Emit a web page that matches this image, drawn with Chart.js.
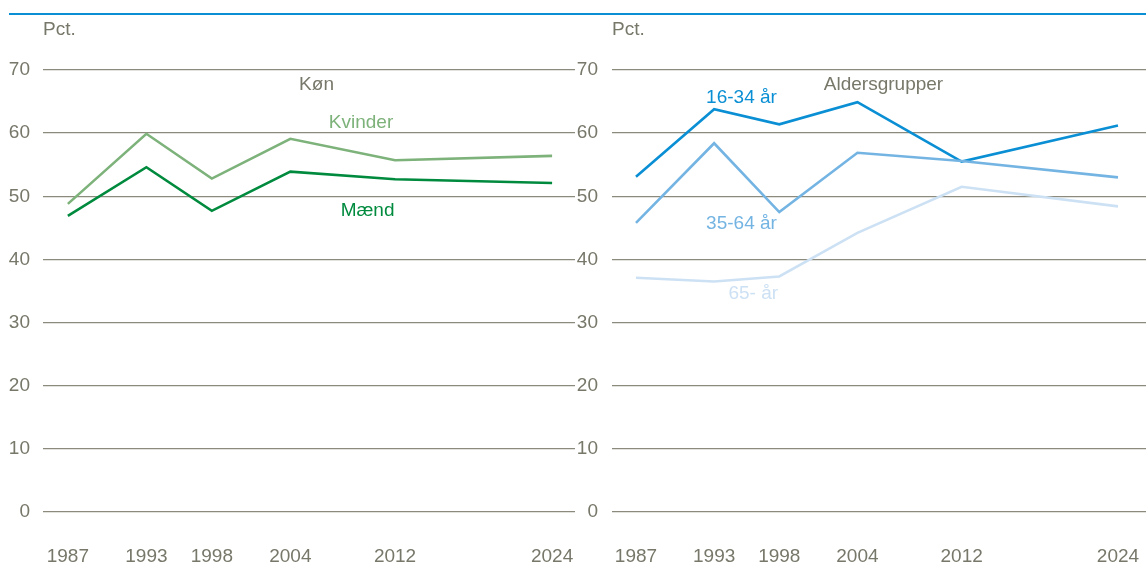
<!DOCTYPE html>
<html lang="da">
<head>
<meta charset="UTF-8">
<title>Køn og aldersgrupper</title>
<style>
  body { margin: 0; background: #fff; font-family: 'Liberation Sans', Arial, sans-serif; }
  #wrap { position: relative; width: 1146px; height: 570px; overflow: hidden; }
  .topline { position: absolute; left: 9px; right: 0; top: 13px; height: 2px; background: #0a8fd4; }
  canvas { position: absolute; top: 0; }
  #c1 { left: 0; }
  #c2 { left: 575px; }
</style>
</head>
<body>
<div id="wrap">
  <div class="topline"></div>
  <canvas id="c1" width="578" height="570"></canvas>
  <canvas id="c2" width="571" height="570"></canvas>
</div>
<script src="https://cdn.jsdelivr.net/npm/chart.js"></script>
<script>
// years on the x axis
const years = [1987, 1993, 1998, 2004, 2012, 2024];
const yTicks = [0, 10, 20, 30, 40, 50, 60, 70];

// Køn
const kvinder = [48.8, 59.9, 52.8, 59.1, 55.7, 56.4];
const maend = [46.9, 54.6, 47.7, 53.9, 52.7, 52.1];

// Aldersgrupper
const alder1634 = [53.1, 63.8, 61.4, 64.9, 55.5, 61.2];
const alder3564 = [45.8, 58.4, 47.5, 56.9, 55.6, 53.0];
const alder65 = [37.1, 36.5, 37.3, 44.2, 51.5, 48.4];

// in-chart labels: [text, year, value, colour]
const leftLabels = [
  ['Køn', 2006.0, 67.6, '#77776a'],
  ['Kvinder', 2009.4, 61.7, '#7db27a'],
  ['Mænd', 2009.9, 47.7, '#008a3e']
];
const rightLabels = [
  ['Aldersgrupper', 2006.0, 67.6, '#77776a'],
  ['16-34 år', 1995.1, 65.6, '#0a8fd4'],
  ['35-64 år', 1995.1, 45.7, '#74b4e3'],
  ['65- år', 1996.0, 34.6, '#cde1f4']
];

const textCol = '#77776a';
const gridCol = '#8c8a7c';
const fontFam = '"Liberation Sans", Arial, sans-serif';

function pts(vals) {
  return years.map((y, i) => ({ x: y, y: vals[i] }));
}

const labelPlugin = {
  id: 'labels',
  afterDatasetsDraw(chart, args, opts) {
    const ctx = chart.ctx;
    const xs = chart.scales.x, ys = chart.scales.y;
    ctx.save();
    ctx.font = '19px ' + fontFam;
    ctx.textBaseline = 'middle';
    ctx.textAlign = 'center';
    opts.items.forEach(([t, yr, v, c]) => {
      ctx.fillStyle = c;
      ctx.fillText(t, xs.getPixelForValue(yr), ys.getPixelForValue(v));
    });
    ctx.textAlign = 'left';
    ctx.fillStyle = textCol;
    ctx.fillText('Pct.', chart.chartArea.left, 30);
    ctx.restore();
  }
};

function makeChart(id, datasets, xmin, xmax, axisW, pad, rightPad, items) {
  return new Chart(document.getElementById(id), {
    type: 'line',
    data: { datasets },
    plugins: [labelPlugin],
    options: {
      responsive: false,
      animation: false,
      layout: { autoPadding: false, padding: { top: 70, bottom: 0, left: 0, right: rightPad } },
      plugins: {
        legend: { display: false },
        tooltip: { enabled: false },
        labels: { items }
      },
      elements: { point: { radius: 0 }, line: { borderWidth: 2.6, tension: 0 } },
      scales: {
        x: {
          type: 'linear', min: xmin, max: xmax,
          afterBuildTicks: s => { s.ticks = years.map(v => ({ value: v })); },
          afterFit: s => { s.height = 58; s.paddingLeft = 0; s.paddingRight = 0; },
          grid: { display: false, drawTicks: false },
          border: { display: false },
          ticks: { color: textCol, font: { size: 19, family: fontFam }, padding: 33, maxRotation: 0, autoSkip: false, callback: v => String(v) }
        },
        y: {
          min: 0, max: 70,
          afterBuildTicks: s => { s.ticks = yTicks.map(v => ({ value: v })); },
          afterFit: s => { s.width = axisW; s.paddingTop = 0; s.paddingBottom = 0; },
          grid: { color: gridCol, lineWidth: 1.3, drawTicks: false },
          border: { display: false },
          ticks: { color: textCol, font: { size: 19, family: fontFam }, padding: pad }
        }
      }
    }
  });
}

makeChart('c1', [
  { data: pts(kvinder), borderColor: '#7db27a' },
  { data: pts(maend), borderColor: '#008a3e' }
], 1985.1, 2025.75, 43, 13, 3, leftLabels);

makeChart('c2', [
  { data: pts(alder65), borderColor: '#cde1f4' },
  { data: pts(alder3564), borderColor: '#74b4e3' },
  { data: pts(alder1634), borderColor: '#0a8fd4' }
], 1985.16, 2026.15, 37, 14, 0, rightLabels);
</script>
</body>
</html>
